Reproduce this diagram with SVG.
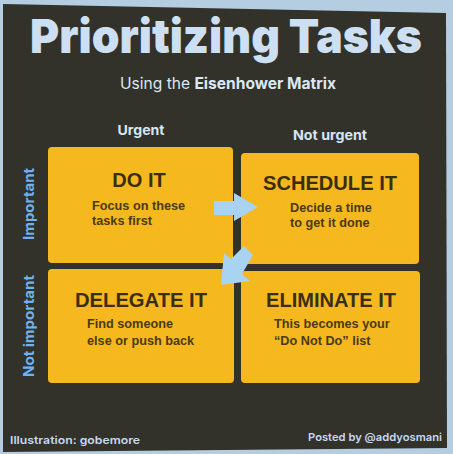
<svg xmlns="http://www.w3.org/2000/svg" width="453" height="454" viewBox="0 0 453 454">
  <defs>
    <style>
      .box { fill: #f6b81f; }
      .ttl { font-family: "Liberation Sans", Arial, sans-serif; font-weight: bold; font-size: 20px; fill: #3a2e12; text-anchor: middle; }
      .sub { font-family: "Liberation Sans", Arial, sans-serif; font-weight: bold; font-size: 12.7px; fill: #4a3a14; }
      .axis { font-family: Inter, "Liberation Sans", sans-serif; font-weight: 700; font-size: 13.5px; fill: #d6e6f6; }
      .vaxis { font-family: Inter, "Liberation Sans", sans-serif; font-weight: 700; font-size: 14.5px; fill: #6fb2f0; text-anchor: middle; }
      .foot { font-family: Inter, "Liberation Sans", sans-serif; font-weight: 600; font-size: 11px; fill: #c4daf0; }
      .arrow { fill: #a9d3f3; }
    </style>
  </defs>
  <rect x="0" y="0" width="453" height="454" fill="#b4cde0"/>
  <polygon points="3,4 446,13 447,448 3,452" fill="#32312a"/>

  <g id="header">
    <text x="226" y="53" font-family="Inter, 'Liberation Sans', sans-serif" font-weight="900" font-size="47" fill="#cde0f3" text-anchor="middle" textLength="392" lengthAdjust="spacingAndGlyphs">Prioritizing Tasks</text>
    <text x="228" y="89" font-family="Inter, 'Liberation Sans', sans-serif" font-size="15.5" fill="#dce8f5" text-anchor="middle" textLength="216" lengthAdjust="spacingAndGlyphs"><tspan font-weight="400">Using the </tspan><tspan font-weight="700">Eisenhower Matrix</tspan></text>
  </g>

  <g id="axis-labels">
    <text class="axis" x="141" y="135" text-anchor="middle" textLength="47" lengthAdjust="spacingAndGlyphs">Urgent</text>
    <text class="axis" x="330" y="140" text-anchor="middle" textLength="74" lengthAdjust="spacingAndGlyphs">Not urgent</text>
    <text class="vaxis" transform="translate(34,204) rotate(-90)" textLength="72" lengthAdjust="spacingAndGlyphs">Important</text>
    <text class="vaxis" transform="translate(34,326) rotate(-90)" textLength="102" lengthAdjust="spacingAndGlyphs">Not important</text>
  </g>

  <g id="do-it">
    <rect class="box" x="48" y="147" width="185" height="116" rx="4"/>
    <text class="ttl" x="139" y="187">DO IT</text>
    <text class="sub" x="92" y="210">Focus on these</text>
    <text class="sub" x="92" y="225">tasks first</text>
  </g>

  <g id="schedule-it">
    <rect class="box" x="241" y="153" width="178" height="111" rx="4"/>
    <text class="ttl" x="330" y="190" textLength="134" lengthAdjust="spacingAndGlyphs">SCHEDULE IT</text>
    <text class="sub" x="290" y="212">Decide a time</text>
    <text class="sub" x="290" y="227">to get it done</text>
  </g>

  <g id="delegate-it">
    <rect class="box" x="48" y="269" width="186" height="114" rx="4"/>
    <text class="ttl" x="141" y="307" textLength="132" lengthAdjust="spacingAndGlyphs">DELEGATE IT</text>
    <text class="sub" x="87" y="328">Find someone</text>
    <text class="sub" x="87" y="345">else or push back</text>
  </g>

  <g id="eliminate-it">
    <rect class="box" x="241" y="271" width="179" height="112" rx="4"/>
    <text class="ttl" x="331" y="307" textLength="130" lengthAdjust="spacingAndGlyphs">ELIMINATE IT</text>
    <text class="sub" x="274" y="328">This becomes your</text>
    <text class="sub" x="274" y="345">“Do Not Do” list</text>
  </g>

  <g id="connectors">
    <polygon class="arrow" points="214,201 234,201 234,193 258,207 234,221 234,215 214,215"/>
    <polygon class="arrow" points="253,255 244,246 231,259 224,253 221,285 250,281 242,274"/>
  </g>

  <g id="footer">
    <text class="foot" x="10" y="444" textLength="130" lengthAdjust="spacingAndGlyphs">Illustration: gobemore</text>
    <text class="foot" x="308" y="441" textLength="134" lengthAdjust="spacingAndGlyphs">Posted by @addyosmani</text>
  </g>
</svg>
